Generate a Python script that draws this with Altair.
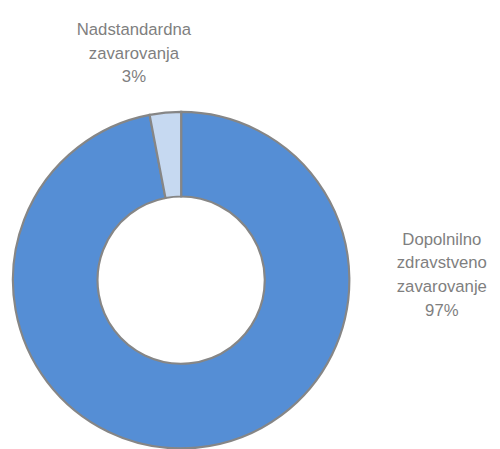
import altair as alt
import pandas as pd

categories = ["Dopolnilno zdravstveno zavarovanje", "Nadstandardna zavarovanja"]
values = [97, 3]
label_lines = [["Dopolnilno", "zdravstveno", "zavarovanje"], ["Nadstandardna", "zavarovanja"]]
colors = ["#558ED5", "#C6D9F1"]

df = pd.DataFrame({
    "category": categories,
    "value": values,
    "order": list(range(len(categories))),
    "label": ["\n".join(l + [f"{v}%"]) for l, v in zip(label_lines, values)],
})

base = alt.Chart(df)

arc = base.mark_arc(
    innerRadius=85, outerRadius=171, stroke="#868686", strokeWidth=2.2,
    x=176, y=273,
).encode(
    theta=alt.Theta("value:Q", stack=True),
    order=alt.Order("order:Q"),
    color=alt.Color("category:N", scale=alt.Scale(domain=categories, range=colors), legend=None),
)

font = "Liberation Sans, Arial"
txt_kw = dict(font=font, fontSize=17, color="#7F7F7F", lineBreak="\n", lineHeight=24,
              align="center", baseline="alphabetic")

left = base.transform_filter(alt.datum.category == categories[1]).mark_text(
    x=128, y=24, **txt_kw).encode(text="label:N")
right = base.transform_filter(alt.datum.category == categories[0]).mark_text(
    x=441, y=237, **txt_kw).encode(text="label:N")

chart = alt.layer(arc, left, right).properties(
    width=492, height=441, autosize=alt.AutoSizeParams(type="none"), padding=0
).configure_view(stroke=None)

chart.save("out.html", embed_options={"renderer": "svg", "actions": False})
